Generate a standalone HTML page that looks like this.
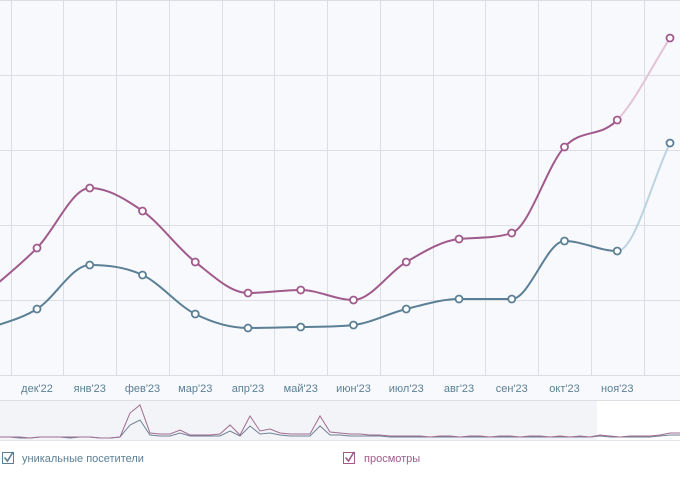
<!DOCTYPE html>
<html><head><meta charset="utf-8">
<style>
html,body{margin:0;padding:0;background:#fff;}
body{width:697px;height:484px;overflow:hidden;font-family:"Liberation Sans",sans-serif;}
svg text{font-family:"Liberation Sans","Noto Sans CJK SC",sans-serif;}
</style></head>
<body>
<svg id="chart" width="697" height="484" viewBox="0 0 697 484">
  <rect x="0" y="0" width="680" height="375" fill="#f8f9fc"/>
  <g id="grid"></g>
  <rect x="0" y="375" width="680" height="25" fill="#f8f9fc"/>
  <line x1="0" y1="375.5" x2="680" y2="375.5" stroke="#dcdee4"/>
  <line x1="0" y1="400.5" x2="680" y2="400.5" stroke="#dcdee4"/>
  <g id="xlabels"></g>
  <g id="series"></g>
  <g id="nav">
    <rect x="0" y="401" width="597" height="39" fill="#f3f4f8"/>
    <rect x="597" y="401" width="83" height="39" fill="#ffffff"/>
    <line x1="0" y1="440.5" x2="680" y2="440.5" stroke="#e3e5ea"/>
  </g>
  <g>
    <rect x="2.5" y="452.5" width="11" height="11" fill="#fff" stroke="#5b7f95"/>
    <path d="M4.5 457.5 L7.5 461 L13 452" fill="none" stroke="#5b7f95" stroke-width="1.6"/>
    <text x="22" y="462" font-size="11" fill="#5b7f95">уникальные посетители</text>
  </g>
  <g>
    <rect x="343.5" y="452.5" width="11" height="11" fill="#fff" stroke="#a05a8c"/>
    <path d="M345.5 457.5 L348.5 461 L354 452" fill="none" stroke="#a05a8c" stroke-width="1.6"/>
    <text x="364" y="462" font-size="11" fill="#a05a8c">просмотры</text>
  </g>
</svg>
<script>
const months = ["ноя'22","дек'22","янв'23","фев'23","мар'23","апр'23","май'23","июн'23","июл'23","авг'23","сен'23","окт'23","ноя'23","дек'23"];
const views = [1067,1693,2493,2187,1507,1093,1133,1000,1507,1813,1893,3040,3400,4493];
const visitors = [600,880,1467,1333,813,627,640,667,880,1013,1013,1787,1653,3093];
const yTicks = [0,1000,2000,3000,4000,5000];
const navViews = [1,1,1,0,1,1,1,1,1,1,0,0,1,25,33,5,4,4,8,3,3,3,4,13,3,22,7,9,5,4,4,4,22,6,5,4,4,3,3,2,2,2,2,1,2,2,1,2,2,1,2,2,1,2,2,1,2,1,2,1,3,2,1,2,2,2,3,5,5];
const navVisitors = [1,1,0,0,1,1,1,0,1,1,0,0,1,13,18,3,2,2,5,2,2,2,2,7,2,12,4,5,3,2,2,2,12,3,3,2,2,2,2,1,1,1,1,1,1,1,1,1,1,1,1,1,1,1,1,1,1,1,1,1,2,1,1,1,1,1,2,3,3];

const NS="http://www.w3.org/2000/svg";
const xOf = i => -15.75 + i*52.75;
const yOf = v => 375 - v*0.075;
function el(tag, attrs, parent){const e=document.createElementNS(NS,tag);for(const k in attrs)e.setAttribute(k,attrs[k]);parent.appendChild(e);return e;}

const grid=document.getElementById('grid');
yTicks.forEach(t=>{const y=Math.round(yOf(t))+0.5;
  const l=el('line',{x1:0,x2:680,y1:y,y2:y,stroke:'#dcdee4'},grid);
  
  });
for(let i=0;i<months.length;i++){const x=Math.round(xOf(i)+26.4)+0.5;
  if(x>0&&x<680){const l=el('line',{x1:x,x2:x,y1:0,y2:400,stroke:'#dcdee4'},grid);
  
  }}
const xl=document.getElementById('xlabels');
months.forEach((m,i)=>{if(i===0||i===months.length-1)return;
  const t=el('text',{x:xOf(i),y:392,'text-anchor':'middle','font-size':'11',fill:'#5b7f95'},xl);
  t.textContent=m;
  
  });

function monotonePath(pts){
  const n=pts.length,d=[],m=[];
  for(let i=0;i<n-1;i++)d.push((pts[i+1][1]-pts[i][1])/(pts[i+1][0]-pts[i][0]));
  for(let i=0;i<n;i++){if(i===0)m.push(d[0]);else if(i===n-1)m.push(d[n-2]);
    else m.push(d[i-1]*d[i]<=0?0:(d[i-1]+d[i])/2);}
  for(let i=0;i<n-1;i++){if(d[i]===0){m[i]=m[i+1]=0;continue;}
    const a=m[i]/d[i],b=m[i+1]/d[i],s=a*a+b*b;if(s>9){const t=3/Math.sqrt(s);m[i]=t*a*d[i];m[i+1]=t*b*d[i];}}
  const segs=[];
  for(let i=0;i<n-1;i++){const h=(pts[i+1][0]-pts[i][0])/3;
    segs.push(`C${pts[i][0]+h},${pts[i][1]+m[i]*h} ${pts[i+1][0]-h},${pts[i+1][1]-m[i+1]*h} ${pts[i+1][0]},${pts[i+1][1]}`);}
  return segs;
}
const ser=document.getElementById('series');
function drawSeries(vals,color,light,name){
  const pts=vals.map((v,i)=>[xOf(i),yOf(v)]);
  const segs=monotonePath(pts);
  const n=pts.length;
  const main=el('path',{d:`M${pts[0][0]},${pts[0][1]}`+segs.slice(0,n-2).join(''),fill:'none',stroke:color,'stroke-width':2},ser);
  
  
  const last=el('path',{d:`M${pts[n-2][0]},${pts[n-2][1]}`+segs[n-2],fill:'none',stroke:light,'stroke-width':2},ser);
  
  
  pts.forEach((p,i)=>{if(i===0)return;
    const c=el('circle',{cx:p[0],cy:p[1],r:3.5,fill:'#fff',stroke:color,'stroke-width':1.8},ser);
    
    });
}
drawSeries(visitors,'#5b7f95','#bcd3e0','visitors');
drawSeries(views,'#a05a8c','#e3c3d6','views');

const nav=document.getElementById('nav');
function navLine(vals,color,name){
  const d=vals.map((v,i)=>(i?'L':'M')+(i*10)+','+(438-v)).join('');
  const p=el('path',{d:d,fill:'none',stroke:color,'stroke-width':1},nav);
  
  
}
navLine(navVisitors,'#6f8294','navigator-visitors-line');
navLine(navViews,'#a06c90','navigator-views-line');
</script>
</body></html>
